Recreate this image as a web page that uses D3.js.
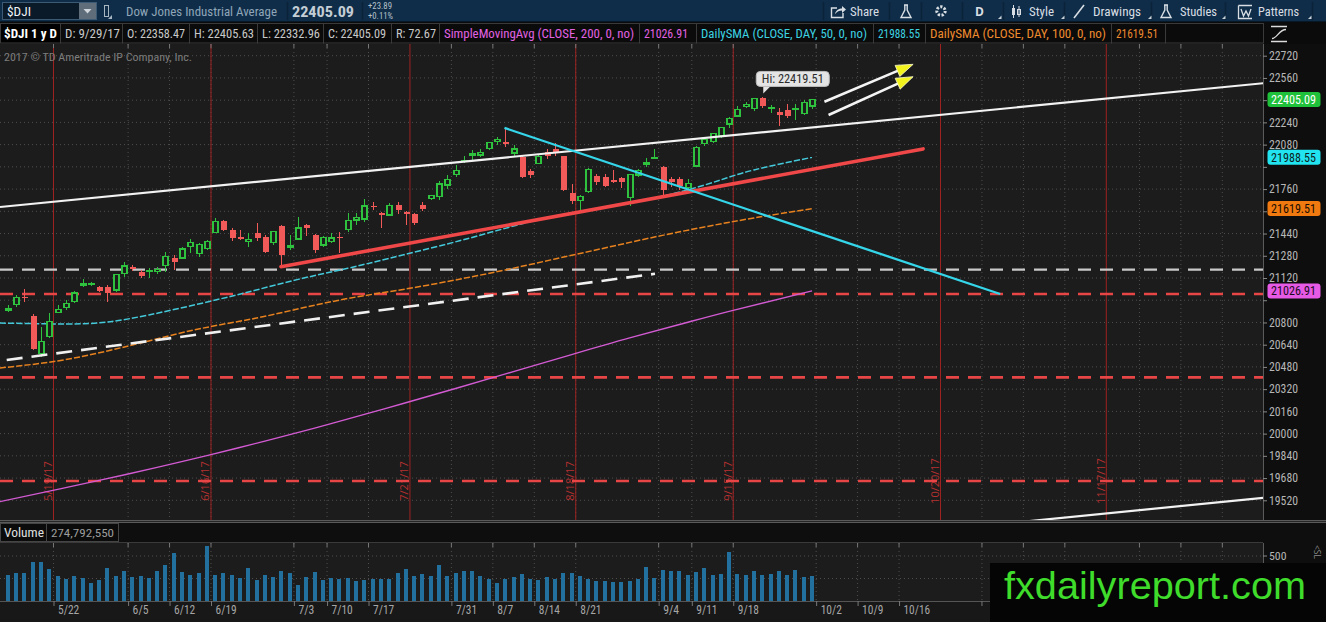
<!DOCTYPE html>
<html><head><meta charset="utf-8">
<script src="https://cdn.jsdelivr.net/npm/d3@7/dist/d3.min.js"></script>
<style>
html,body{margin:0;padding:0;background:#1c1c1c;overflow:hidden}
svg{display:block}
</style></head><body>
<svg id="chart" width="1326" height="622" viewBox="0 0 1326 622" font-family="'Open Sans','Noto Sans',Roboto,sans-serif"></svg>
<script>
// ================= DATA =================
const dates = ["5/12","5/15","5/16","5/17","5/18","5/19","5/22","5/23","5/24","5/25","5/26","5/30","5/31",
"6/1","6/2","6/5","6/6","6/7","6/8","6/9","6/12","6/13","6/14","6/15","6/16","6/19","6/20","6/21","6/22","6/23","6/26","6/27","6/28","6/29","6/30",
"7/3","7/5","7/6","7/7","7/10","7/11","7/12","7/13","7/14","7/17","7/18","7/19","7/20","7/21","7/24","7/25","7/26","7/27","7/28","7/31",
"8/1","8/2","8/3","8/4","8/7","8/8","8/9","8/10","8/11","8/14","8/15","8/16","8/17","8/18","8/21","8/22","8/23","8/24","8/25","8/28","8/29","8/30","8/31",
"9/1","9/5","9/6","9/7","9/8","9/11","9/12","9/13","9/14","9/15","9/18","9/19","9/20","9/21","9/22","9/25","9/26","9/27","9/28","9/29"];
const opens = [20890,20930,20985,20850,20575,20700,20870,20905,20950,21070,21075,21057,21055,
21034,21150,21202,21165,21165,21165,21209,21264,21264,21345,21298,21334,21446,21528,21466,21413,21381,21444,21413,21374,21494,21340,
21401,21502,21430,21358,21381,21418,21471,21538,21545,21637,21590,21574,21646,21597,21581,21646,21694,21705,21790,21866,
21957,22005,22005,22053,22101,22100,22020,21993,21893,21946,22030,22045,21995,21735,21680,21741,21854,21849,21825,21838,21700,21862,21946,
21985,21921,21830,21830,21770,21926,22090,22101,22142,22228,22286,22353,22341,22413,22340,22317,22330,22334,22305,22358.47];
const highs = [20925,21000,21040,20860,20770,20870,20926,20960,21025,21112,21090,21065,21070,
21150,21237,21212,21175,21192,21200,21309,21285,21340,21401,21370,21392,21551,21535,21480,21466,21444,21516,21430,21461,21500,21430,
21562,21510,21440,21425,21444,21453,21586,21586,21687,21669,21595,21660,21669,21605,21590,21670,21720,21815,21862,21933,
21998,22041,22045,22100,22133,22195,22077,22000,21905,22005,22050,22091,22000,21796,21720,21910,21870,21870,21898,21850,21870,21905,21984,
22045,21925,21849,21850,21835,22070,22125,22160,22210,22280,22355,22390,22415,22419.51,22365,22340,22370,22375,22400,22405.63];
const lows = [20875,20910,20947,20600,20553,20690,20868,20890,20940,21055,21060,21020,20947,
21020,21130,21170,21120,21120,21150,21165,21178,21258,21298,21270,21320,21441,21455,21388,21395,21346,21385,21300,21360,21201,21320,
21395,21420,21300,21340,21373,21298,21453,21502,21525,21609,21478,21570,21580,21505,21500,21600,21680,21680,21760,21850,
21947,21970,21990,22040,22077,22065,21990,21840,21840,21940,21980,21999,21745,21650,21600,21730,21790,21775,21802,21770,21640,21845,21919,
21975,21710,21773,21755,21755,21920,22070,22090,22130,22200,22280,22340,22320,22340,22306,22214,22270,22255,22290,22332.96];
const closes = [20896.61,20981.94,20979.75,20606.93,20663.02,20804.84,20894.83,20937.91,21012.42,21082.95,21080.28,21029.47,21008.65,
21144.18,21206.29,21184.04,21136.23,21173.69,21182.53,21271.97,21235.67,21328.47,21374.56,21359.90,21384.28,21528.99,21467.14,21410.03,21397.29,21394.76,21409.55,21310.66,21454.61,21287.03,21349.63,
21479.27,21478.17,21320.04,21414.34,21408.52,21409.07,21532.14,21553.09,21637.74,21629.72,21574.73,21640.75,21611.78,21580.07,21513.17,21613.43,21711.01,21796.55,21830.31,21891.12,
21963.92,22016.24,22026.10,22092.81,22118.42,22085.34,22048.70,21844.01,21858.32,21993.71,21998.99,22024.87,21750.73,21674.51,21703.75,21899.89,21812.09,21783.40,21813.67,21808.40,21865.37,21892.43,21948.10,
21987.56,21753.31,21807.64,21784.78,21797.79,22057.37,22118.86,22158.18,22203.48,22268.34,22331.35,22370.80,22412.59,22359.23,22349.59,22296.09,22284.32,22340.71,22381.20,22405.09];
// volume, millions of shares
const volumes = [285,310,310,435,428,357,275,239,275,261,203,232,368,
275,328,268,275,261,332,400,535,321,285,310,607,285,310,285,261,364,232,285,268,332,310,
178,268,321,232,261,250,261,225,232,239,239,239,310,357,275,296,275,403,275,310,
332,332,275,239,203,250,268,296,239,232,268,250,310,310,275,239,225,225,214,214,225,239,380,
253,339,329,336,292,318,372,292,299,548,303,292,336,292,303,336,285,347,263,274.79];

// moving averages (bar index, value)
const sma50Idx = [-1,7,12,17,23,29,35,41,46,53,58,62,66,73,78,82,86,90,97];
const sma50Val = [20796,20789,20803,20854,20933,21019,21110,21190,21262,21365,21445,21510,21565,21640,21696,21754,21826,21898,21988.55];
const sma100Idx = [-1,6,12,17,23,30,36,42,48,54,60,66,72,78,84,90,97];
const sma100Val = [20472,20523,20595,20667,20753,20832,20911,20983,21041,21106,21178,21257,21336,21415,21487,21552,21619.51];
const sma200Idx = [-1,5,11,18,24,31,37,43,48,54,59,62,68,75,81,87,97];
const sma200Val = [19510,19586,19663,19757,19842,19946,20040,20138,20222,20325,20412,20464,20569,20689,20785,20880,21026.91];

// drawings (bar index, price)
const channelTop = [[-0.953,21631],[151.64,22523]];
const channelBottom = [[122,19363],[151.64,19539]];
const supportDashed = [[-0.145,20530],[78.06,21150]];
const redTrend = [[32.94,21201],[110.4,22049]];
const cyanTrend = [[59.9,22200],[119.7,21005]];
const redLevels = [21005,20405,19659];
const grayLevel = 21180;
const arrowLines = [[[98.5,22389],[109.2,22658]],[[99,22293],[109.2,22569]]];
const hiIdx = 91, hiValue = 22419.51;

// axes
const priceTicks = [19520,19680,19840,20000,20160,20320,20480,20640,20800,20960,21120,21280,21440,21600,21760,21920,22080,22240,22400,22560,22720];
const xTickIdx = [6,15,20,25,35,39,44,54,59,64,69,79,83,88,98,103,108];
const xTickLabels = ["5/22","6/5","6/12","6/19","7/3","7/10","7/17","7/31","8/7","8/14","8/21","9/4","9/11","9/18","10/2","10/9","10/16"];
const futureTickIdx = [118,123,128,137,142,147];
const expiryIdx = [5,24,48,68,87,112,132];
const expiryLabels = ["5/19/17","6/16/17","7/21/17","8/18/17","9/15/17","10/20/17","11/17/17"];
const volTicks = [250,500];

const lastClose = 22405.09, lastSma200 = 21026.91, lastSma50 = 21988.55, lastSma100 = 21619.51;
const infoTexts = ["$DJI 1 y D","D: 9/29/17","O: 22358.47","H: 22405.63","L: 22332.96","C: 22405.09","R: 72.67",
  "SimpleMovingAvg (CLOSE, 200, 0, no)","21026.91","DailySMA (CLOSE, DAY, 50, 0, no)","21988.55","DailySMA (CLOSE, DAY, 100, 0, no)","21619.51"];
const volumeText = "274,792,550";

// ================= LAYOUT =================
const PR = 1263, PT = 44, PB = 520, VT = 543, VB = 601;
const C = {bg:"#1c1c1c", axisBg:"#0e0e0e", grid:"#4e4e4e", up:"#2ec23e", dn:"#f25a5a"};
const NARROW = "'Liberation Sans Narrow','Roboto Condensed',Roboto,sans-serif";

const x = d3.scaleLinear().domain([0,97]).range([7.9,812]);
const y = d3.scaleLinear().domain([19520,22720]).range([500.3,55.7]);
const yv = d3.scaleLinear().domain([0,500]).range([VB,556]);

const svg = d3.select("#chart");
function R(p,x0,y0,w,h,fill,stroke,sw){const r=p.append("rect").attr("x",x0).attr("y",y0).attr("width",w).attr("height",h).attr("fill",fill||"none");if(stroke)r.attr("stroke",stroke).attr("stroke-width",sw||1);return r;}
function Ln(p,x1,y1,x2,y2,stroke,sw,dash){const l=p.append("line").attr("x1",x1).attr("y1",y1).attr("x2",x2).attr("y2",y2).attr("stroke",stroke).attr("stroke-width",sw||1);if(dash)l.attr("stroke-dasharray",dash);return l;}
function T(p,x0,y0,s,o){o=o||{};const t=p.append("text").attr("x",x0).attr("y",y0).text(s).attr("fill",o.fill||"#ccc").attr("font-size",o.size||12);
  if(o.weight)t.attr("font-weight",o.weight);if(o.anchor)t.attr("text-anchor",o.anchor);if(o.len)t.attr("textLength",o.len).attr("lengthAdjust","spacingAndGlyphs");if(o.family)t.style("font-family",o.family);return t;}

// backgrounds
R(svg,0,0,1326,622,C.bg);
R(svg,PR,PT,1326-PR,PB-PT,C.axisBg);
R(svg,0,520,1326,3,"#262626");
Ln(svg,0,520.5,1326,520.5,"#5a5a5a");Ln(svg,0,522.5,1326,522.5,"#5a5a5a");
R(svg,0,523,1326,20,"#0e0e0e");
R(svg,PR,VT,1326-PR,VB-VT,C.axisBg);
R(svg,0,VB,1326,622-VB,"#181818");
Ln(svg,0,VB+0.5,PR,VB+0.5,"#555");
Ln(svg,PR+0.5,PT,PR+0.5,PB,"#5a5a5a");
Ln(svg,PR+0.5,VT,PR+0.5,VB,"#5a5a5a");

const defs = svg.append("defs");
defs.append("clipPath").attr("id","pc").append("rect").attr("x",0).attr("y",PT).attr("width",PR).attr("height",PB-PT);
defs.append("clipPath").attr("id","vc").append("rect").attr("x",0).attr("y",VT).attr("width",PR).attr("height",VB-VT);

const P = svg.append("g").attr("clip-path","url(#pc)");
const V = svg.append("g").attr("clip-path","url(#vc)");

// grid
const allTickIdx = xTickIdx.concat(futureTickIdx);
P.selectAll(".hg").data(priceTicks).join("line").attr("x1",0).attr("x2",PR).attr("y1",d=>y(d)).attr("y2",d=>y(d))
  .attr("stroke",C.grid).attr("stroke-dasharray","1,3");
P.selectAll(".vg").data(allTickIdx).join("line").attr("x1",d=>x(d-0.5)).attr("x2",d=>x(d-0.5)).attr("y1",PT).attr("y2",PB)
  .attr("stroke",C.grid).attr("stroke-dasharray","1,3");
V.selectAll(".vhg").data(volTicks).join("line").attr("x1",0).attr("x2",PR).attr("y1",d=>yv(d)).attr("y2",d=>yv(d))
  .attr("stroke",C.grid).attr("stroke-dasharray","1,3");
V.selectAll(".vvg").data(allTickIdx).join("line").attr("x1",d=>x(d-0.5)).attr("x2",d=>x(d-0.5)).attr("y1",VT).attr("y2",VB)
  .attr("stroke",C.grid).attr("stroke-dasharray","1,3");
svg.selectAll(".tt").data(allTickIdx).join("line").attr("x1",d=>x(d-0.5)).attr("x2",d=>x(d-0.5)).attr("y1",PT).attr("y2",PT+4).attr("stroke","#777");
svg.selectAll(".vt").data(allTickIdx).join("line").attr("x1",d=>x(d-0.5)).attr("x2",d=>x(d-0.5)).attr("y1",VT).attr("y2",VT+4).attr("stroke","#777");

// expiration lines
P.selectAll(".exl").data(expiryIdx).join("line").attr("x1",d=>x(d+0.5)).attr("x2",d=>x(d+0.5)).attr("y1",PT).attr("y2",PB)
  .attr("stroke","#9e2222").attr("stroke-width",1);
P.selectAll(".ext").data(expiryIdx).join("text")
  .attr("transform",d=>`translate(${x(d+0.5)-1.5},${y(19659)}) rotate(-90)`)
  .attr("text-anchor","middle").attr("font-size",11).attr("fill","#b53030").text((d,i)=>expiryLabels[i]);

// horizontal levels
P.selectAll(".rl").data(redLevels).join("line").attr("x1",0).attr("x2",PR).attr("y1",d=>y(d)).attr("y2",d=>y(d))
  .attr("stroke","#e84646").attr("stroke-width",2.6).attr("stroke-dasharray","13,9");
Ln(P,0,y(grayLevel),PR,y(grayLevel),"#c9c9c9",2.2,"13,9");

// moving averages
const lineGen = d3.line().x(d=>x(d[0])).y(d=>y(d[1])).curve(d3.curveNatural);
P.append("path").attr("d",lineGen(sma200Idx.map((d,i)=>[d,sma200Val[i]]))).attr("fill","none").attr("stroke","#d25ad2").attr("stroke-width",1.4);
P.append("path").attr("d",lineGen(sma100Idx.map((d,i)=>[d,sma100Val[i]]))).attr("fill","none").attr("stroke","#e8821e").attr("stroke-width",1.5).attr("stroke-dasharray","6.3,2");
P.append("path").attr("d",lineGen(sma50Idx.map((d,i)=>[d,sma50Val[i]]))).attr("fill","none").attr("stroke","#44c9da").attr("stroke-width",1.5).attr("stroke-dasharray","6.3,2");

// candles
const candles = dates.map((d,i)=>({i,o:opens[i],h:highs[i],l:lows[i],c:closes[i]}));
const cg = P.append("g").attr("shape-rendering","crispEdges");
cg.selectAll(".wk").data(candles).join("line")
  .attr("x1",d=>Math.round(x(d.i))+0.5).attr("x2",d=>Math.round(x(d.i))+0.5).attr("y1",d=>y(d.h)).attr("y2",d=>y(d.l))
  .attr("stroke",d=>d.c>=d.o?C.up:C.dn).attr("stroke-width",1);
cg.selectAll(".bd").data(candles).join("rect")
  .attr("x",d=>d.c>=d.o?Math.round(x(d.i))-2:Math.round(x(d.i))-2.5)
  .attr("width",d=>d.c>=d.o?5:6)
  .attr("y",d=>y(Math.max(d.o,d.c)))
  .attr("height",d=>Math.max(1,Math.abs(y(d.o)-y(d.c))))
  .attr("fill",d=>d.c>=d.o?C.bg:C.dn)
  .attr("stroke",d=>d.c>=d.o?C.up:"none").attr("stroke-width",1.2);

// drawings
function seg(p,pts,stroke,sw,dash){return Ln(p,x(pts[0][0]),y(pts[0][1]),x(pts[1][0]),y(pts[1][1]),stroke,sw,dash);}
seg(P,channelTop,"#f2f2f2",2.2);
seg(P,channelBottom,"#f2f2f2",2.2);
seg(P,supportDashed,"#f0f0f0",2.6,"16,9");
seg(P,redTrend,"#f04848",3.6).attr("stroke-linecap","round");
seg(P,cyanTrend,"#35d6ea",2.3);

// arrows
arrowLines.forEach(a=>{
  const x1=x(a[0][0]),y1=y(a[0][1]),x2=x(a[1][0]),y2=y(a[1][1]);
  const dx=x2-x1,dy=y2-y1,len=Math.hypot(dx,dy),ux=dx/len,uy=dy/len;
  const hl=17,hw=6,bx=x2-ux*hl,by=y2-uy*hl;
  Ln(P,x1,y1,bx+ux*2,by+uy*2,"#f4f4f4",2.6);
  P.append("path").attr("d",`M${x2},${y2}L${bx-uy*hw},${by+ux*hw}L${bx+uy*hw},${by-ux*hw}Z`)
    .attr("fill","#f2f21c").attr("stroke","#fbfbd0").attr("stroke-width",0.8).attr("stroke-linejoin","round");
});

// Hi bubble
{
  const hx=x(hiIdx), hy=y(hiValue);
  const bx=hx-6, bw=73, by=hy-26, bh=15;
  P.append("path").attr("d",`M${hx+1},${by+bh-1}L${hx+1},${hy-4}L${hx+9},${by+bh-1}Z`).attr("fill","#e4e4e4");
  R(P,bx,by,bw,bh,"#e4e4e4","#bdbdbd",1).attr("rx",4);
  T(P,bx+bw/2,by+11.5,"Hi: "+hiValue.toFixed(2),{fill:"#2a2a2a",size:12,anchor:"middle",len:62,family:NARROW});
}

// copyright
T(svg,4,61,"2017 \u00A9 TD Ameritrade IP Company, Inc.",{fill:"#7c7c7c",size:10.5,len:188,family:NARROW});

// price badges
const badges = [
  {v:lastClose,fill:"#1fc03a",txt:"#ffffff"},
  {v:lastSma50,fill:"#22e4f0",txt:"#0c1c22"},
  {v:lastSma100,fill:"#f07a10",txt:"#1a0c00"},
  {v:lastSma200,fill:"#e65ae6",txt:"#1c0a1c"}];

// price axis (labels hidden under a badge are not drawn, as in the reference)
const hidden = v => badges.some(b=>Math.abs(y(b.v)-y(v))<10);
const yAx = svg.append("g").attr("transform",`translate(${PR},0)`)
  .call(d3.axisRight(y).tickValues(priceTicks).tickSize(4).tickPadding(2).tickFormat(d3.format("d")));
yAx.select(".domain").remove();
yAx.selectAll("line").attr("stroke","#888");
yAx.selectAll("text").attr("fill","#b6b6b6").attr("font-size",12)
  .style("font-family",NARROW).attr("textLength",29).attr("lengthAdjust","spacingAndGlyphs");
yAx.selectAll(".tick").filter(d=>hidden(d)).select("text").remove();

badges.forEach(b=>{
  R(svg,PR+4.5,y(b.v)-7.5,53,15,b.fill).attr("rx",3);
  T(svg,PR+8,y(b.v)+4.3,b.v.toFixed(2),{fill:b.txt,size:12,len:45,family:NARROW});
});

// volume
V.selectAll(".vb").data(volumes).join("rect")
  .attr("x",(d,i)=>Math.round(x(i))-2).attr("width",4.4)
  .attr("y",d=>yv(d)).attr("height",d=>VB-yv(d)).attr("fill","#21709e").attr("shape-rendering","crispEdges");
svg.selectAll(".vtk").data([500]).join("line").attr("x1",PR).attr("x2",PR+4).attr("y1",d=>yv(d)).attr("y2",d=>yv(d)).attr("stroke","#888");
svg.selectAll(".vtl").data([500]).join("text").attr("x",PR+6).attr("y",d=>yv(d)+3.5).text(d=>d)
  .attr("fill","#b6b6b6").attr("font-size",11.5).style("font-family",NARROW)
  .attr("textLength",17.5).attr("lengthAdjust","spacingAndGlyphs");
svg.append("text").attr("transform","translate(1314,545) rotate(90)").text("<SL").attr("fill","#8a8a8a").attr("font-size",8.5);

// volume header
R(svg,0.5,523.5,46,18,"#0b0b0b","#454545");
R(svg,46.5,523.5,72,18,"#0b0b0b","#454545");
Ln(svg,0,542.5,PR,542.5,"#3a3a3a");
T(svg,4,537,"Volume",{fill:"#e0e0e0",size:12,len:40,family:NARROW});
T(svg,51,537,volumeText,{fill:"#9c9c9c",size:11.5,len:63,family:NARROW});

// x axis
const xAx = svg.append("g").attr("transform",`translate(0,${VB})`)
  .call(d3.axisBottom(x).tickValues(xTickIdx.map(d=>d-0.5)).tickSize(5).tickFormat((d,i)=>xTickLabels[i]));
xAx.select(".domain").remove();
xAx.selectAll("line").attr("stroke","#777");
xAx.selectAll("text").attr("text-anchor","start").attr("x",4).attr("y",4).attr("fill","#a6a6a6").attr("font-size",12.5)
  .style("font-family",NARROW)
  .each(function(d,i){d3.select(this).attr("textLength",xTickLabels[i].length*5.3).attr("lengthAdjust","spacingAndGlyphs");});
svg.selectAll(".ftk").data(futureTickIdx).join("line").attr("x1",d=>x(d-0.5)).attr("x2",d=>x(d-0.5)).attr("y1",VB).attr("y2",VB+5).attr("stroke","#777");

// ================= TOP TOOLBAR =================
const tb = svg.append("g");
R(tb,0,0,1326,22,"#0f2d48");
Ln(tb,0,21.5,1326,21.5,"#071826");
R(tb,2.5,2.5,94,17,"#0a1a29","#3d5a75");
R(tb,79,3,17,16,"#5f6d7b");
tb.append("path").attr("d","M83.5,9L91.5,9L87.5,13.5Z").attr("fill","#cfd6dc");
T(tb,7,16,"$DJI",{fill:"#eef2f5",size:12.5,len:24,family:NARROW});
R(tb,104.5,5.5,4,11,"none","#a8b6c2");
tb.append("path").attr("d","M108,19L112,19L112,15Z").attr("fill","#a8b6c2");
T(tb,126,16,"Dow Jones Industrial Average",{fill:"#8fa6b9",size:12.5,len:151,family:NARROW});
[287,362,823,889,921,962,1003,1064,1151,1225,1312].forEach(s=>Ln(tb,s+0.5,2,s+0.5,20,"#0a2338",1.5));
T(tb,292,17,"22405.09",{fill:"#c4cdd5",size:15,weight:"bold",len:62,family:NARROW});
T(tb,368,8.5,"+23.89",{fill:"#b5c0ca",size:8.5,len:24,family:NARROW});
T(tb,368,19,"+0.11%",{fill:"#b5c0ca",size:8.5,len:25,family:NARROW});
tb.append("path").attr("d","M837,8H831.5V17.5H843V13").attr("fill","none").attr("stroke","#d8dee4").attr("stroke-width",1.4);
tb.append("path").attr("d","M835,14C836,10 839,8.5 842,8.5V6L846,9.5L842,13V10.5C839.5,10.5 837,11.5 835,14Z").attr("fill","#d8dee4");
T(tb,850,16,"Share",{fill:"#d8dee4",size:12.5,len:29,family:NARROW});
function flask(cx){tb.append("path").attr("d",`M${cx-2},5H${cx+2}M${cx-1.2},5V10L${cx-5},17.5H${cx+5}L${cx+1.2},10V5`).attr("fill","none").attr("stroke","#d8dee4").attr("stroke-width",1.4);}
flask(906);
tb.append("circle").attr("cx",941).attr("cy",11).attr("r",4.2).attr("fill","none").attr("stroke","#d8dee4").attr("stroke-width",3).attr("stroke-dasharray","2.2,1.5");
tb.append("circle").attr("cx",941).attr("cy",11).attr("r",1.6).attr("fill","#0f2d48");
T(tb,975,16,"D",{fill:"#d8dee4",size:12,weight:"bold"});
[[998,19],[1061,19],[1148,19],[1222,19],[1308,19]].forEach(p=>tb.append("path").attr("d",`M${p[0]},${p[1]}H${p[0]+3.5}V${p[1]-3.5}Z`).attr("fill","#c8d0d8"));
R(tb,1012,8,3,7,"#d8dee4");Ln(tb,1013.5,5,1013.5,18,"#d8dee4",1);
R(tb,1017.5,9.5,3,5,"none","#d8dee4");Ln(tb,1019,6,1019,17,"#d8dee4",1);
T(tb,1029,16,"Style",{fill:"#d8dee4",size:12.5,len:25,family:NARROW});
Ln(tb,1074,18,1084,5,"#d8dee4",1.6);
T(tb,1093,16,"Drawings",{fill:"#d8dee4",size:12.5,len:48,family:NARROW});
flask(1166);
T(tb,1180,16,"Studies",{fill:"#d8dee4",size:12.5,len:37,family:NARROW});
tb.append("path").attr("d","M1238.5,5.5H1252M1238.5,5.5V18.5H1252M1241,9L1243.5,16L1246,11L1248.5,16L1251,9").attr("fill","none").attr("stroke","#d8dee4").attr("stroke-width",1.3);
T(tb,1258,16,"Patterns",{fill:"#d8dee4",size:12.5,len:41,family:NARROW});

// ================= INFO BAR =================
const ib = svg.append("g");
R(ib,0,22,1326,22,"#0b0b0b");
const infoSeg = [0,60,122,189,257,323,391,439,639,696,873,925,1111,1165,1263];
const infoColor = ["#ffffff","#c9c9c9","#c9c9c9","#c9c9c9","#c9c9c9","#c9c9c9","#c9c9c9","#e262e2","#e262e2","#3dd2e2","#3dd2e2","#ee8a2e","#ee8a2e"];
const infoLen = [53,55,58,60,58,58,40,190,44,166,42,176,42];
for(let k=0;k<infoSeg.length-1;k++){
  R(ib,infoSeg[k]+0.5,23.5,infoSeg[k+1]-infoSeg[k],19.5,k===0?"#000":"#0b0b0b","#3a3a3a");
}
infoTexts.forEach((s,k)=>T(ib,infoSeg[k]+(k===0?4:5),38,s,{fill:infoColor[k],size:12.5,weight:k===0?"bold":null,len:infoLen[k],family:NARROW}));
ib.append("path").attr("d","M1271,26.5H1287M1271,41.5H1287M1272,38.5C1277,38.5 1279,29.5 1286,29.5").attr("fill","none").attr("stroke","#dcdcdc").attr("stroke-width",1.3);

// ================= WATERMARK =================
R(svg,990,563,336,59,"#050505");
T(svg,1004,599,"fxdailyreport.com",{fill:"#3fdc2c",size:39.5,len:302,family:"'Liberation Sans',Arial,sans-serif"});
</script>
</body></html>
